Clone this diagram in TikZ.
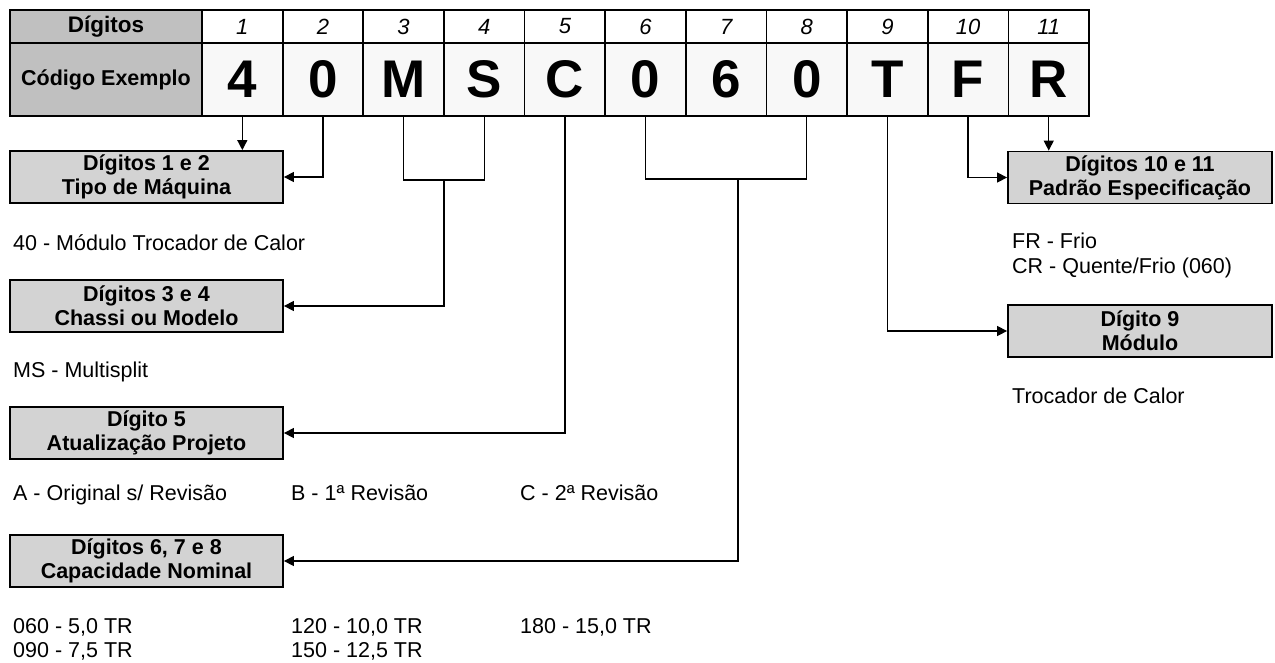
\documentclass[tikz,border=0pt]{standalone}
\usepackage{fontspec}
\setmainfont{Liberation Sans}
\usetikzlibrary{arrows.meta}
\definecolor{hdrgray}{HTML}{C0C0C0}
\definecolor{cellgray}{HTML}{F8F8F8}
\definecolor{boxgray}{HTML}{D3D3D3}
\begin{document}
\begin{tikzpicture}[x=1pt, y=-1pt,
    tbl/.style={draw, line width=1.8pt, inner sep=0pt, minimum width=80.64pt},
    hdrcell/.style={tbl, fill=hdrgray, minimum width=192pt},
    numcell/.style={tbl, fill=white, minimum height=33pt, font=\itshape\fontsize{22}{24}\selectfont},
    digitcell/.style={tbl, fill=cellgray, minimum height=73pt, font=\bfseries\fontsize{53}{53}\selectfont},
    infobox/.style={draw, line width=1.8pt, fill=boxgray, align=center, inner sep=0pt,
        minimum width=273pt, minimum height=52pt, font=\bfseries\fontsize{21.5}{24}\selectfont},
    infotext/.style={anchor=base west, inner sep=0pt, font=\fontsize{21.5}{24}\selectfont},
    conn/.style={line width=1.3pt, -{Triangle[length=10pt,width=10pt]}},
    link/.style={line width=1.3pt}]
    \useasboundingbox (0,0) rectangle (1275,662);

    \node[hdrcell, minimum height=33pt, font=\bfseries\fontsize{22.5}{24}\selectfont] (hdig) at (106,26.5) {Dígitos};
    \node[hdrcell, minimum height=73pt, font=\bfseries\fontsize{21.5}{24}\selectfont] (hcod) at (106,79.5) {Código Exemplo};
    \foreach \i/\c in {1/4,2/0,3/M,4/S,5/C,6/0,7/6,8/0,9/T,10/F,11/R}
        {\node[numcell] (n\i) at ({202+(\i-0.5)*80.64},26.5) {\i};
         \node[digitcell] (d\i) at ({202+(\i-0.5)*80.64},79.5) {\c};}

    \node[infobox] (b12) at (146.5,177) {Dígitos 1 e 2\\Tipo de Máquina};
    \node[infobox] (b34) at (146.5,306) {Dígitos 3 e 4\\Chassi ou Modelo};
    \node[infobox] (b5) at (146.5,433) {Dígito 5\\Atualização Projeto};
    \node[infobox] (b678) at (146.5,561) {Dígitos 6, 7 e 8\\Capacidade Nominal};
    \node[infobox, minimum width=264pt] (b1011) at (1140,177.5) {Dígitos 10 e 11\\Padrão Especificação};
    \node[infobox, minimum width=264pt] (b9) at (1140,331) {Dígito 9\\Módulo};

    \node[infotext] (t12) at (13,250) {40 - Módulo Trocador de Calor};
    \node[infotext] (t34) at (13,377) {MS - Multisplit};
    \node[infotext] (t5a) at (13,500) {A - Original s/ Revisão};
    \node[infotext] (t5b) at (291,500) {B - 1ª Revisão};
    \node[infotext] (t5c) at (520,500) {C - 2ª Revisão};
    \node[infotext] (t678a) at (13,633) {060 - 5,0 TR};
    \node[infotext] (t678b) at (13,657) {090 - 7,5 TR};
    \node[infotext] (t678c) at (291,633) {120 - 10,0 TR};
    \node[infotext] (t678d) at (291,657) {150 - 12,5 TR};
    \node[infotext] (t678e) at (520,633) {180 - 15,0 TR};
    \node[infotext] (t1011a) at (1012,248) {FR - Frio};
    \node[infotext] (t1011b) at (1012,273) {CR - Quente/Frio (060)};
    \node[infotext] (t9) at (1012,403) {Trocador de Calor};

    \coordinate (j34) at (443.9,180);
    \coordinate (j678) at (738,179);
    \draw[conn] (d1.south) -- (d1.south |- b12.north);
    \draw[conn] (d2.south) |- (b12.east);
    \draw[link] (d3.south) |- (j34) -| (d4.south);
    \draw[conn] (j34) |- (b34.east);
    \draw[conn] (d5.south) |- (b5.east);
    \draw[link] (d6.south) |- (j678) -| (d8.south);
    \draw[conn] (j678) |- (b678.east);
    \draw[conn] (d9.south) |- (b9.west);
    \draw[conn] (d10.south) |- (b1011.west);
    \draw[conn] (d11.south) -- (d11.south |- b1011.north);
\end{tikzpicture}
\end{document}
